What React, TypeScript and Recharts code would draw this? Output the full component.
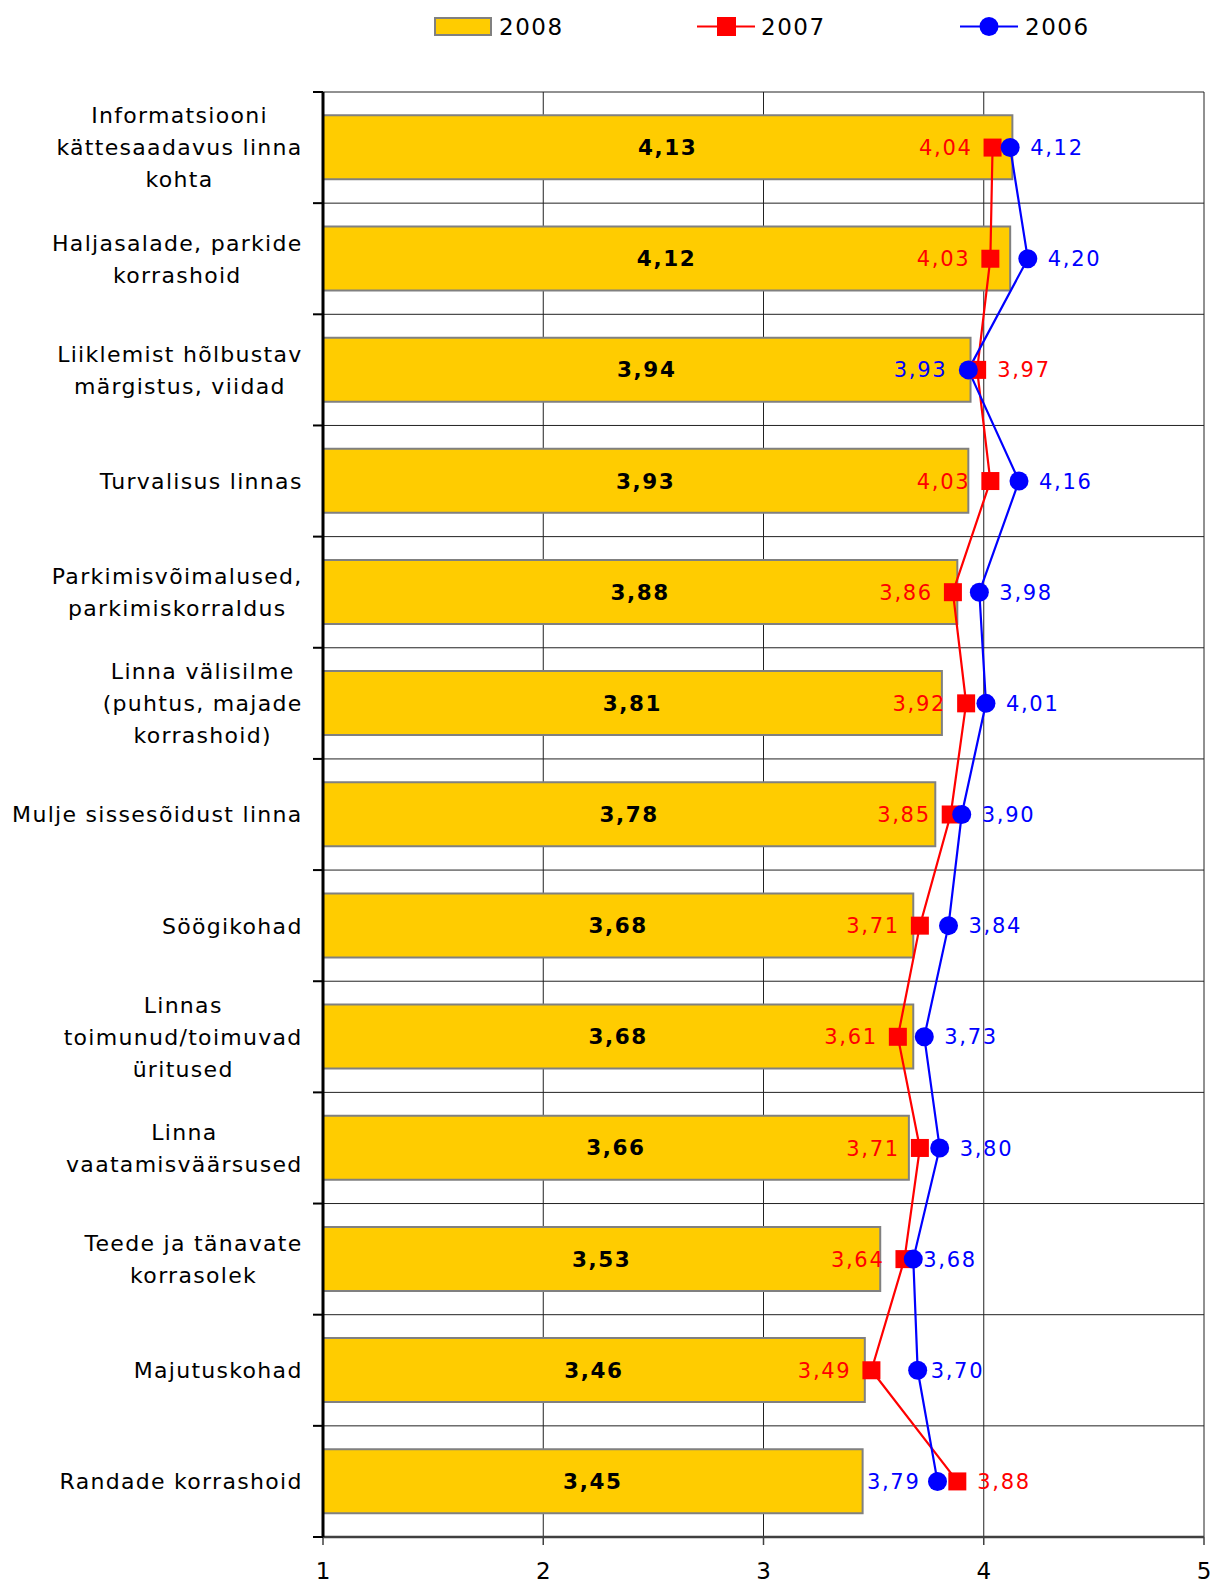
import React from 'react';
import { ComposedChart, Bar, Line, XAxis, YAxis, CartesianGrid, LabelList } from 'recharts';

// ---------- data ----------
const categories: string[] = [
  'Informatsiooni\nkättesaadavus linna\nkohta',
  'Haljasalade, parkide\nkorrashoid',
  'Liiklemist hõlbustav\nmärgistus, viidad',
  'Turvalisus linnas',
  'Parkimisvõimalused,\nparkimiskorraldus',
  'Linna välisilme\n(puhtus, majade\nkorrashoid)',
  'Mulje sissesõidust linna',
  'Söögikohad',
  'Linnas\ntoimunud/toimuvad\nüritused',
  'Linna\nvaatamisväärsused',
  'Teede ja tänavate\nkorrasolek',
  'Majutuskohad',
  'Randade korrashoid',
];
const values2008: number[] = [4.13, 4.12, 3.94, 3.93, 3.88, 3.81, 3.78, 3.68, 3.68, 3.66, 3.53, 3.46, 3.45];
const values2007: number[] = [4.04, 4.03, 3.97, 4.03, 3.86, 3.92, 3.85, 3.71, 3.61, 3.71, 3.64, 3.49, 3.88];
const values2006: number[] = [4.12, 4.2, 3.93, 4.16, 3.98, 4.01, 3.9, 3.84, 3.73, 3.8, 3.68, 3.7, 3.79];
const xTicks: number[] = [1, 2, 3, 4, 5];
const seriesNames: string[] = ['2008', '2007', '2006'];

// label placement (style)
const side2007: string[] = ['L', 'L', 'R', 'L', 'L', 'L', 'L', 'L', 'L', 'L', 'L', 'L', 'R'];
const side2006: string[] = ['R', 'R', 'L', 'R', 'R', 'R', 'R', 'R', 'R', 'R', 'R', 'R', 'L'];
const gap2006: number[] = [20, 20, 21, 20, 20, 20, 20, 20, 20, 20, 10, 13, 17];

// ---------- layout ----------
const W = 1213;
const H = 1585;
const PLOT_LEFT = 323;
const PLOT_TOP = 92;
const PLOT_RIGHT = 1204;
const XAXIS_H = 48;
const PLOT_BOTTOM = H - XAXIS_H;
const N = categories.length;
const BAND = (PLOT_BOTTOM - PLOT_TOP) / N;

const FONT = '"DejaVu Sans", Verdana, sans-serif';
const RED = '#FF0000';
const BLUE = '#0000FF';
const YELLOW = '#FFCC00';

const fmt = (v: number) => v.toFixed(2).replace('.', ',');

const rows = categories.map((name, i) => ({
  name,
  v2008: values2008[i],
  v2007: values2007[i],
  v2006: values2006[i],
}));

let ctx: CanvasRenderingContext2D | null = null;
function measure(text: string, font: string, spacing: number) {
  if (!ctx) ctx = document.createElement('canvas').getContext('2d');
  if (!ctx) return text.length * 12;
  ctx.font = font;
  return ctx.measureText(text).width + spacing * text.length;
}

const Y_FS = 22;
const Y_LS = 1.3;
const Y_LH = 32;

const YTick = (props: any) => {
  const { y, payload, index } = props;
  const lines = String(payload.value).split('\n');
  const font = `${Y_FS}px "DejaVu Sans"`;
  const maxW = Math.max(...lines.map((l) => measure(l, font, Y_LS)));
  const right = PLOT_LEFT - 21;
  const cx = right - maxW / 2;
  const startY = y - ((lines.length - 1) * Y_LH) / 2;
  const tickY = y - BAND / 2;
  return (
    <g>
      <line x1={PLOT_LEFT - 10} x2={PLOT_LEFT} y1={tickY} y2={tickY} stroke="#000" strokeWidth={2} />
      {index === N - 1 && (
        <line x1={PLOT_LEFT - 10} x2={PLOT_LEFT} y1={y + BAND / 2} y2={y + BAND / 2} stroke="#000" strokeWidth={2} />
      )}
      <text
        x={cx}
        y={startY}
        textAnchor="middle"
        fontFamily={FONT}
        fontSize={Y_FS}
        letterSpacing={Y_LS}
        fill="#000"
      >
        {lines.map((l, i) => (
          <tspan key={i} x={cx + Y_LS / 2} y={startY + i * Y_LH} dy="0.36em">
            {l}
          </tspan>
        ))}
      </text>
    </g>
  );
};

const XTick = (props: any) => {
  const { x, payload } = props;
  return (
    <text x={x} y={PLOT_BOTTOM + 42} textAnchor="middle" fontFamily={FONT} fontSize={23} fill="#000">
      {payload.value}
    </text>
  );
};

const SquareDot = (props: any) => {
  const { cx, cy, index } = props;
  if (cx == null || cy == null) return <g key={index} />;
  return <rect key={index} x={cx - 9} y={cy - 9} width={18} height={18} fill={RED} />;
};

const CircleDot = (props: any) => {
  const { cx, cy, index } = props;
  if (cx == null || cy == null) return <g key={index} />;
  return <circle key={index} cx={cx} cy={cy} r={9.5} fill={BLUE} />;
};

const makeLineLabel = (color: string, sides: string[], gaps: number[] | null) => (props: any) => {
  const { x, y, value, index } = props;
  const side = sides[index];
  const gap = gaps ? gaps[index] : 20;
  const tx = side === 'L' ? x - gap : x + gap;
  return (
    <text
      x={tx}
      y={y}
      dy="0.36em"
      textAnchor={side === 'L' ? 'end' : 'start'}
      fontFamily={FONT}
      fontSize={21}
      letterSpacing={1.7}
      fill={color}
    >
      {fmt(Number(value))}
    </text>
  );
};

const BarLabel = (props: any) => {
  const { x, y, width, height, value } = props;
  return (
    <text
      x={x + width / 2}
      y={y + height / 2}
      dy="0.36em"
      textAnchor="middle"
      fontFamily={FONT}
      fontSize={21.5}
      fontWeight="bold"
      letterSpacing={1.6}
      fill="#000"
    >
      {fmt(Number(value))}
    </text>
  );
};

const Legend = () => (
  <svg width={W} height={60} style={{ position: 'absolute', left: 0, top: 0, pointerEvents: 'none' }}>
    <g fontFamily={FONT} fontSize={23} letterSpacing={1.5} fill="#000">
      <rect x={435} y={18} width={56} height={17} fill={YELLOW} stroke="#808080" strokeWidth={2} />
      <text x={499} y={35}>{seriesNames[0]}</text>
      <line x1={697} x2={755} y1={26.5} y2={26.5} stroke={RED} strokeWidth={2} />
      <rect x={717} y={17} width={19} height={19} fill={RED} />
      <text x={761} y={35}>{seriesNames[1]}</text>
      <line x1={960} x2={1018} y1={26.5} y2={26.5} stroke={BLUE} strokeWidth={2} />
      <circle cx={989} cy={26.5} r={9.5} fill={BLUE} />
      <text x={1025} y={35}>{seriesNames[2]}</text>
    </g>
  </svg>
);

export default function App() {
  return (
    <div style={{ position: 'absolute', left: 0, top: 0, width: W, height: H, background: '#fff' }}>
      <ComposedChart
        layout="vertical"
        width={W}
        height={H}
        data={rows}
        margin={{ top: PLOT_TOP, right: W - PLOT_RIGHT, bottom: 0, left: 0 }}
        barCategoryGap="21%"
      >
        <CartesianGrid
          stroke="#222"
          strokeWidth={1}
          horizontalCoordinatesGenerator={({ offset }: any) =>
            Array.from({ length: N + 1 }, (_, i) => offset.top + (i * offset.height) / N)
          }
        />
        <XAxis
          type="number"
          domain={[1, 5]}
          ticks={xTicks}
          interval={0}
          height={XAXIS_H}
          axisLine={{ stroke: '#404040', strokeWidth: 2.5 }}
          tickLine={{ stroke: '#404040', strokeWidth: 1.5 }}
          tickSize={8}
          tick={<XTick />}
          allowDataOverflow
        />
        <YAxis
          type="category"
          dataKey="name"
          width={PLOT_LEFT}
          axisLine={{ stroke: '#000', strokeWidth: 3 }}
          tickLine={false}
          tick={<YTick />}
          interval={0}
        />
        <Bar dataKey="v2008" fill={YELLOW} stroke="#808080" strokeWidth={2} isAnimationActive={false}>
          <LabelList dataKey="v2008" content={<BarLabel />} />
        </Bar>
        <Line
          dataKey="v2007"
          stroke={RED}
          strokeWidth={2.2}
          dot={<SquareDot />}
          activeDot={false}
          isAnimationActive={false}
        >
          <LabelList dataKey="v2007" content={makeLineLabel(RED, side2007, null)} />
        </Line>
        <Line
          dataKey="v2006"
          stroke={BLUE}
          strokeWidth={2.2}
          dot={<CircleDot />}
          activeDot={false}
          isAnimationActive={false}
        >
          <LabelList dataKey="v2006" content={makeLineLabel(BLUE, side2006, gap2006)} />
        </Line>
      </ComposedChart>
      <Legend />
    </div>
  );
}
